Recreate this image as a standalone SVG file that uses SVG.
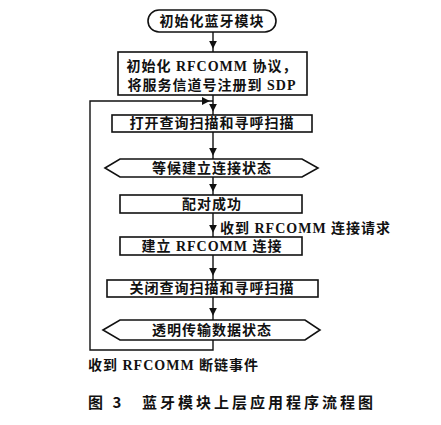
<svg xmlns="http://www.w3.org/2000/svg" width="441" height="425" viewBox="0 0 441 425">
<defs>
<style>
.n{fill:#fff;stroke:#111;stroke-width:1.6}
.t{font-family:"Liberation Serif","Noto Sans CJK SC",serif;font-weight:bold;font-size:14px;fill:#111;letter-spacing:1px}
.c{stroke:#111;stroke-width:1.4;fill:none}
.cap{font-family:"Noto Sans CJK SC",sans-serif;font-weight:bold;font-size:15px;fill:#111;letter-spacing:3px}
</style>
<marker id="ah" viewBox="0 0 10 10" refX="9" refY="5" markerWidth="8" markerHeight="8" markerUnits="userSpaceOnUse" orient="auto">
<path d="M0,0 L10,5 L0,10 Z" fill="#111"/>
</marker>
</defs>
<g id="connectors">
<path class="c" d="M213,32 L213,48 L213,52" marker-mid="url(#ah)"/>
<path class="c" d="M213,95 L213,111 L213,115" marker-mid="url(#ah)"/>
<path class="c" d="M213,132 L213,155 L213,160" marker-mid="url(#ah)"/>
<path class="c" d="M213,177 L213,191 L213,195" marker-mid="url(#ah)"/>
<path class="c" d="M213,213 L213,232 L213,237" marker-mid="url(#ah)"/>
<path class="c" d="M213,255 L213,275 L213,280" marker-mid="url(#ah)"/>
<path class="c" d="M213,297 L213,315 L213,320" marker-mid="url(#ah)"/>
<path class="c" d="M213,340 L213,350 L90,350 L90,101 L120,101"/>
<path class="c" d="M120,101 L209,101 L213,101" marker-mid="url(#ah)"/>
<text class="t" x="220" y="233">收到 RFCOMM 连接请求</text>
<text class="t" x="88" y="370">收到 RFCOMM 断链事件</text>
</g>
<g id="start">
<rect class="n" x="148" y="10" width="128" height="22" rx="11"/>
<text class="t" x="212" y="26" text-anchor="middle">初始化蓝牙模块</text>
</g>
<g id="init">
<rect class="n" x="118" y="52" width="189" height="43"/>
<text class="t" x="212" y="71" text-anchor="middle">初始化 RFCOMM 协议，</text>
<text class="t" x="212" y="90" text-anchor="middle">将服务信道号注册到 SDP</text>
</g>
<g id="scan-on">
<rect class="n" x="112" y="115" width="200" height="17"/>
<text class="t" x="212" y="128" text-anchor="middle">打开查询扫描和寻呼扫描</text>
</g>
<g id="wait">
<polygon class="n" points="105,168 120,159 302,159 318,168 302,177 120,177"/>
<text class="t" x="212" y="173" text-anchor="middle">等候建立连接状态</text>
</g>
<g id="paired">
<rect class="n" x="120" y="195" width="182" height="18"/>
<text class="t" x="212" y="209" text-anchor="middle">配对成功</text>
</g>
<g id="connect">
<rect class="n" x="120" y="237" width="182" height="18"/>
<text class="t" x="212" y="251" text-anchor="middle">建立 RFCOMM 连接</text>
</g>
<g id="scan-off">
<rect class="n" x="107" y="280" width="211" height="17"/>
<text class="t" x="212" y="293" text-anchor="middle">关闭查询扫描和寻呼扫描</text>
</g>
<g id="transfer">
<polygon class="n" points="103,330 120,320 305,320 320,330 305,340 120,340"/>
<text class="t" x="212" y="335" text-anchor="middle">透明传输数据状态</text>
</g>
<text class="cap" x="88" y="408">图 3<tspan x="142">蓝牙模块上层应用程序流程图</tspan></text>
</svg>
